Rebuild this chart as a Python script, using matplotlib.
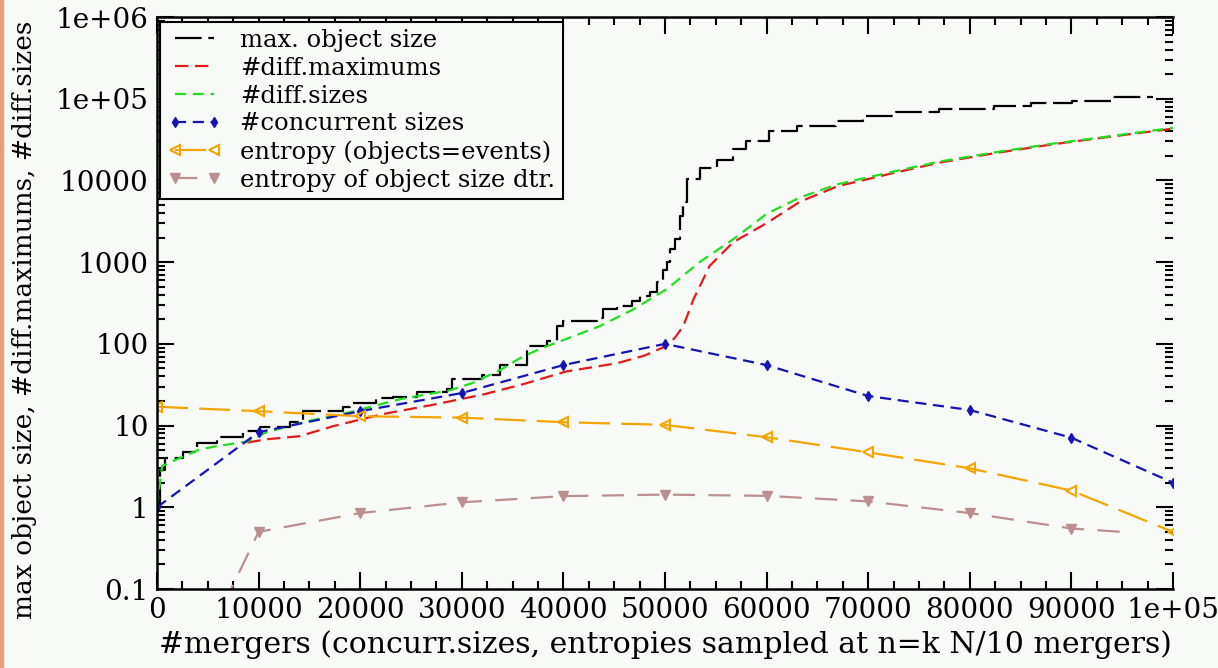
import matplotlib
matplotlib.use("Agg")
import matplotlib.pyplot as plt
from matplotlib.ticker import FixedLocator, FixedFormatter, LogLocator, MultipleLocator
from matplotlib.patches import Rectangle

# --- data ---
x_ticks = [0, 10000, 20000, 30000, 40000, 50000, 60000, 70000, 80000, 90000, 100000]
x_tick_labels = ["0", "10000", "20000", "30000", "40000", "50000", "60000",
                 "70000", "80000", "90000", "1e+05"]
y_ticks = [0.1, 1, 10, 100, 1000, 10000, 1e5, 1e6]
y_tick_labels = ["0.1", "1", "10", "100", "1000", "10000", "1e+05", "1e+06"]

max_size_x = [0, 300, 800, 2600, 3900, 5900, 8500, 10100, 13100, 14400, 18300, 19000,
              21600, 23200, 25600, 28500, 29000, 32000, 33800, 36400, 38400, 39400,
              40000, 43300, 43900, 45300, 46800, 47500, 48500, 49200, 49800, 50200,
              50500, 51000, 51500, 51800, 52200, 53400, 55100, 56700, 58000, 60200,
              63000, 66800, 69500, 72700, 77000, 82400, 86000, 90100, 94000, 98000]
max_size_y = [1, 2.9, 4.0, 4.8, 6.2, 7.2, 8.5, 9.5, 11, 15, 16.8, 19,
              22, 22.5, 26, 28, 37, 42, 55, 94, 108, 165,
              190, 210, 265, 290, 330, 380, 430, 570, 800, 1000,
              1450, 1900, 3700, 5500, 10500, 14000, 18000, 24500, 30000, 40000,
              47000, 54000, 61000, 69000, 75000, 82000, 88000, 94000, 105000, 105000]

diff_max_x = [8900, 10800, 14000, 17300, 22200, 27200, 32100,
              36000, 40300, 45300, 48000, 50200, 51000, 51800, 52800, 54400, 56700,
              60000, 63300, 67000, 72700, 77000, 82400, 88000, 94000, 100000]
diff_max_y = [6.2, 6.8, 7.4, 9.8, 13.8, 18, 24,
              32, 46, 58, 72, 95, 120, 165, 350, 900, 1750,
              3000, 5500, 8500, 12500, 16500, 21500, 27500, 34500, 43000]

diff_sizes_x = [0, 500, 2600, 4200, 5900, 8900, 10800, 14400, 19000, 23900, 28800, 31000,
                33800, 36000, 38000, 40300, 43600, 46900, 50200, 53400, 56700, 60000,
                63300, 67000, 72700, 77000, 82400, 88000, 94000, 100000]
diff_sizes_y = [1, 3.2, 4.2, 5.1, 5.6, 6.4, 8.3, 11, 14.6, 21, 27, 33,
                48, 70, 90, 115, 165, 265, 470, 1000, 1900, 3900,
                6200, 9000, 13000, 17000, 22000, 28000, 35000, 44000]

sample_x = [0, 10000, 20000, 30000, 40000, 50000, 60000, 70000, 80000, 90000, 100000]
concurrent_y = [1, 8.3, 15, 25, 55, 100, 55, 23, 15.5, 7.1, 2.0]
entropy_events_y = [17, 15, 13, 12.5, 11, 10.2, 7.2, 4.7, 3.0, 1.6, 0.5]

entropy_dist_x = [0, 10000, 20000, 30000, 40000, 50000, 60000, 70000, 80000, 90000, 95000]
entropy_dist_y = [0.0013, 0.5, 0.85, 1.15, 1.37, 1.43, 1.38, 1.18, 0.85, 0.55, 0.5]

bg = "#f7faf7"
serif = ["DejaVu Serif"]

fig = plt.figure(figsize=(12.18, 6.68), dpi=100, facecolor=bg)
ax = fig.add_axes([157 / 1218, 1 - 589 / 668, 1016 / 1218, 572 / 668], facecolor=bg)

ax.plot(max_size_x, max_size_y, color="black", lw=1.6, ls=(0, (12, 3)),
        drawstyle="steps-post", label="max. object size")
ax.plot(diff_max_x, diff_max_y, color="#e41a1c", lw=1.6, ls=(0, (6, 3)),
        label="#diff.maximums")
ax.plot(diff_sizes_x, diff_sizes_y, color="#22dd22", lw=1.6, ls=(0, (5, 3)),
        label="#diff.sizes")
ax.plot(sample_x, concurrent_y, color="#1515b5", lw=1.6, ls=(0, (5, 3)),
        marker="d", ms=5, label="#concurrent sizes")
ax.plot(sample_x, entropy_events_y, color="#f5a500", lw=1.6, ls=(0, (14, 5)),
        marker="<", ms=7, mfc="none", mew=1.5, label="entropy (objects=events)")
ax.plot(entropy_dist_x, entropy_dist_y, color="#bc8f8f", lw=1.6, ls=(0, (10, 6)),
        marker="v", ms=7, markevery=list(range(1, 10)),
        label="entropy of object size dtr.")

ax.set_yscale("log")
ax.set_xlim(0, 100000)
ax.set_ylim(0.1, 1e6)

ax.xaxis.set_major_locator(FixedLocator(x_ticks))
ax.xaxis.set_major_formatter(FixedFormatter(x_tick_labels))
ax.xaxis.set_minor_locator(MultipleLocator(2500))
ax.yaxis.set_major_locator(FixedLocator(y_ticks))
ax.yaxis.set_major_formatter(FixedFormatter(y_tick_labels))
ax.yaxis.set_minor_locator(LogLocator(base=10, subs=range(2, 10), numticks=20))

ax.tick_params(which="both", direction="in", top=True, right=True, width=1.5)
ax.tick_params(which="major", length=12, labelsize=20, pad=6)
ax.tick_params(which="minor", length=6)
for lab in ax.get_xticklabels() + ax.get_yticklabels():
    lab.set_family(serif)

for side in ["left", "bottom", "top"]:
    ax.spines[side].set_linewidth(1.8)
ax.spines["right"].set_visible(False)

ax.set_xlabel("#mergers (concurr.sizes, entropies sampled at n=k N/10 mergers)",
              family=serif, fontsize=21.5, labelpad=4)
ax.set_ylabel("max object size, #diff.maximums, #diff.sizes",
              family=serif, fontsize=19, labelpad=10)
ax.yaxis.set_label_coords(-0.118, 0.47)

leg = ax.legend(loc="upper left", bbox_to_anchor=(0.003, 0.992), borderaxespad=0,
                numpoints=2, fancybox=False, framealpha=1, facecolor=bg,
                edgecolor="black", prop={"family": serif, "size": 17.5},
                labelspacing=0.2, handlelength=2.2, handletextpad=0.8,
                borderpad=0.3)
leg.get_frame().set_linewidth(1.5)

# thin orange border on the left edge of the picture
fig.patches.append(Rectangle((0, 0), 3 / 1218, 1, transform=fig.transFigure,
                             color="#e8a07a", zorder=10))

fig.savefig("out.png", dpi=100, facecolor=bg)
